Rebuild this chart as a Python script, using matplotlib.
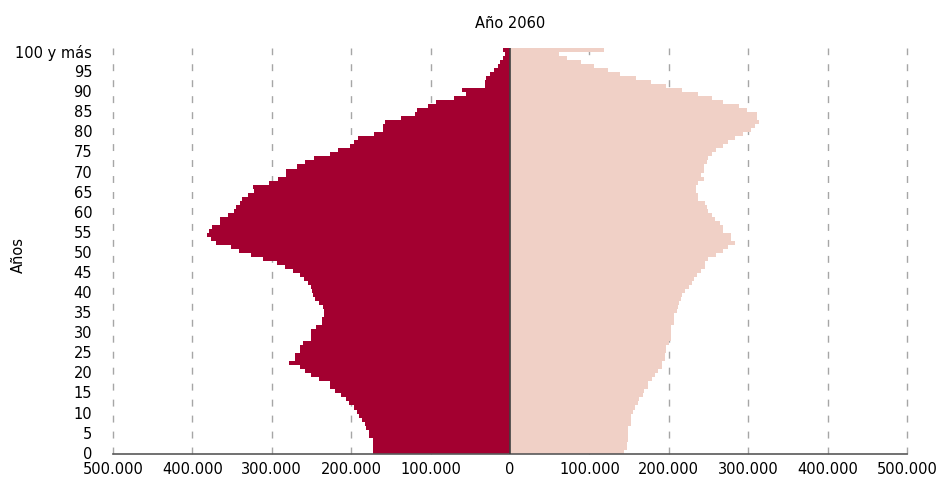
import numpy as np
import matplotlib
matplotlib.use("Agg")
import matplotlib.pyplot as plt

# population by single year of age (0 .. 99, then "100 y más"), in thousands
ages = np.arange(101)
hombres = [
    173, 173, 173, 173, 177, 178, 181, 182, 186, 190,
    193, 197, 203, 207, 213, 221, 227, 227, 241, 251,
    258, 264, 278, 271, 271, 264, 264, 261, 251, 251,
    251, 244, 237, 237, 234, 234, 236, 241, 246, 248,
    249, 251, 254, 259, 265, 273, 284, 294, 311, 326,
    341, 352, 370, 376, 382, 379, 375, 365, 365, 355,
    348, 345, 340, 338, 330, 322, 324, 304, 292, 282,
    282, 268, 258, 247, 227, 217, 201, 197, 191, 171,
    160, 160, 157, 137, 120, 117, 103, 93, 70, 56,
    60, 32, 32, 30, 25, 20, 15, 12, 9, 6,
    9,
]
mujeres = [
    143, 147, 147, 148, 148, 149, 149, 152, 152, 153,
    155, 157, 161, 163, 167, 169, 174, 174, 179, 183,
    187, 192, 192, 195, 195, 197, 197, 200, 203, 203,
    203, 203, 206, 206, 207, 210, 211, 213, 215, 217,
    221, 225, 229, 232, 236, 241, 246, 246, 250, 260,
    268, 274, 284, 278, 278, 268, 268, 264, 258, 254,
    250, 248, 245, 237, 237, 234, 234, 237, 244, 240,
    244, 244, 248, 250, 254, 260, 268, 274, 284, 294,
    304, 308, 314, 311, 311, 298, 288, 268, 254, 237,
    217, 197, 177, 159, 139, 123, 106, 89, 72, 62,
    119,
]
hombres = np.array(hombres) * 1000
mujeres = np.array(mujeres) * 1000

yticks = list(range(0, 101, 5))
ylabels = [str(t) for t in yticks[:-1]] + ["100 y más"]
xticks = np.arange(-500000, 500001, 100000)
xlabels = ["{:,}".format(abs(t)).replace(",", ".") for t in xticks]

plt.rcParams['font.family'] = ['DejaVu Sans']
fig = plt.figure(figsize=(9.44, 4.85), dpi=100)
ax = fig.add_axes([113/944, 1 - 454.7/485, 794/944, 405.7/485])

for t in xticks:
    if t != 0:
        ax.axvline(t, color='#a6a6a6', lw=1, ls=(0, (5, 6.5)), zorder=0,
                   clip_on=False)

ax.barh(ages, -hombres, height=1.0, color='#a30030', lw=0, zorder=2)
ax.barh(ages, mujeres, height=1.0, color='#f0d0c6', lw=0, zorder=2)
ax.axvline(0, color='#404040', lw=1.2, zorder=3)

ax.set_xlim(-500000, 500000)
ax.set_ylim(-0.5, 100.5)
ax.set_xticks(xticks)
ax.set_xticklabels(xlabels, fontsize=10.5)
ax.set_yticks(yticks)
ax.set_yticklabels(ylabels, fontsize=10.5)
ax.tick_params(axis='y', length=0, pad=15)
ax.tick_params(axis='x', length=0, pad=5)
for s in ['left', 'right', 'top']:
    ax.spines[s].set_visible(False)
ax.spines['bottom'].set_color('#595959')
ax.spines['bottom'].set_linewidth(1.2)

ax.set_title("Año 2060", fontsize=10.5, pad=15)
fig.text(18/944, 1 - 255/485, "Años", rotation=90, fontsize=10.5,
         ha='center', va='center')

fig.savefig("out.png", dpi=100)
